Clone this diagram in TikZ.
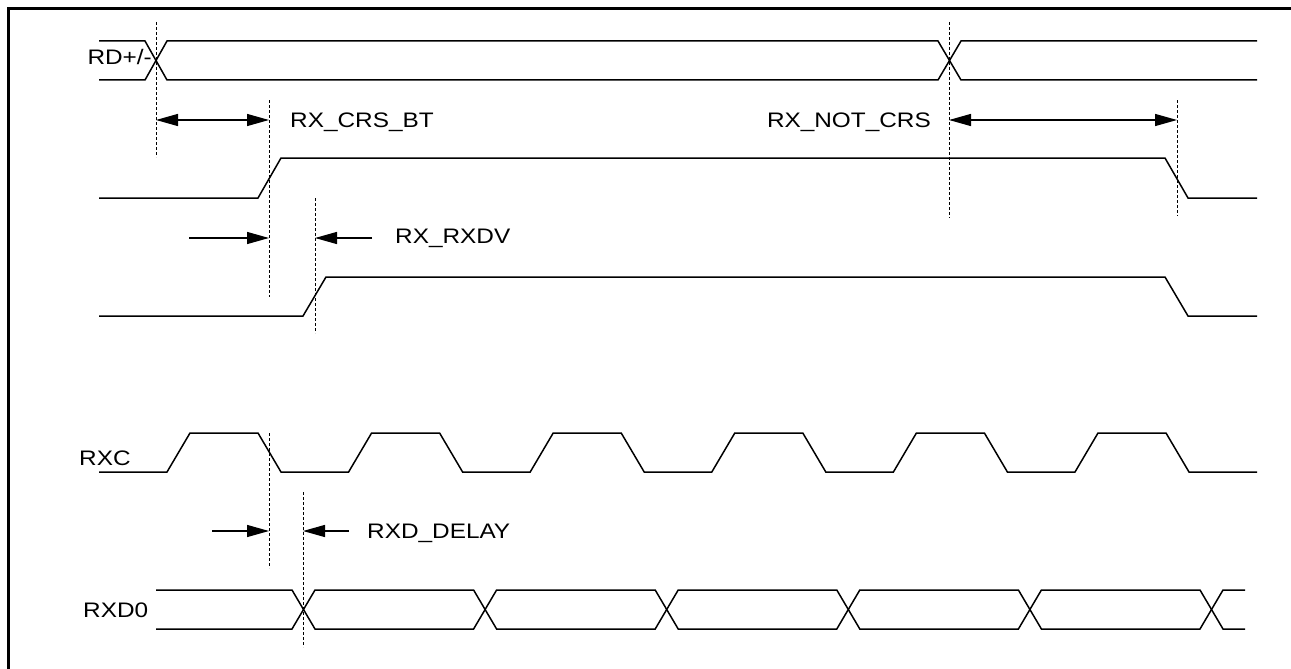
\documentclass[tikz,border=0pt]{standalone}
\usepackage{fontspec}
\setmainfont{Liberation Sans}[FakeStretch=1.16]
\usetikzlibrary{arrows.meta}
\begin{document}
\begin{tikzpicture}[x=1pt,y=-1pt,
  sig/.style={line width=1.5pt,line join=miter},
  guide/.style={line width=1pt,dash pattern=on 3pt off 2pt},
  dim/.style={line width=1.3pt},
  onetip/.style={dim,-{Triangle[length=22pt,width=12pt]}},
  twotip/.style={dim,{Triangle[length=22pt,width=12pt]}-{Triangle[length=22pt,width=12pt]}},
  lbl/.style={font=\fontsize{21}{24}\selectfont, inner sep=0pt}]
\useasboundingbox (0,0) rectangle (1291,669);
% frame (top and left only)
\draw[line width=3pt] (1291,9) -- (8,9) -- (8,669);

% ---------- labels ----------
\node[lbl,anchor=base east] (lrd) at (152,65) {RD+/-};
\node[lbl,anchor=base west] (lrxc) at (79,465) {RXC};
\node[lbl,anchor=base west] (lrxd) at (83,617) {RXD0};
\node[lbl,anchor=base west] (lcrsbt) at (290,127) {RX\_CRS\_BT};
\node[lbl,anchor=base east] (lnotcrs) at (931,127) {RX\_NOT\_CRS};
\node[lbl,anchor=base west] (lrxdv) at (395,243) {RX\_RXDV};
\node[lbl,anchor=base west] (ldelay) at (367,538) {RXD\_DELAY};

% ---------- RD+/- ----------
\draw[sig] (99,41) -- (145,41) -- (167,80) -- (938,80) -- (961,41) -- (1257,41);
\draw[sig] (99,80) -- (145,80) -- (167,41) -- (938,41) -- (961,80) -- (1257,80);

% ---------- CRS ----------
\draw[sig] (99,198) -- (258,198) -- (281,158) -- (1165,158) -- (1188,198) -- (1257,198);

% ---------- RX_DV ----------
\draw[sig] (99,316) -- (303,316) -- (326,277) -- (1165,277) -- (1188,316) -- (1257,316);

% ---------- RXC ----------
\draw[sig] (99,472)
  -- (167,472) -- (190,433) -- (258,433) -- (281,472)
  -- (348.6,472) -- (371.6,433) -- (439.6,433) -- (462.6,472)
  -- (530.2,472) -- (553.2,433) -- (621.2,433) -- (644.2,472)
  -- (711.8,472) -- (734.8,433) -- (802.8,433) -- (825.8,472)
  -- (893.4,472) -- (916.4,433) -- (984.4,433) -- (1007.4,472)
  -- (1075,472) -- (1098,433) -- (1166,433) -- (1189,472)
  -- (1257,472);

% ---------- RXD0 ----------
\draw[sig] (156,590) -- (292,590) -- (315,629) -- (473.6,629) -- (496.6,590)
  -- (655.2,590) -- (678.2,629) -- (836.8,629) -- (859.8,590)
  -- (1018.4,590) -- (1041.4,629) -- (1200,629) -- (1223,590) -- (1245,590);
\draw[sig] (156,629) -- (292,629) -- (315,590) -- (473.6,590) -- (496.6,629)
  -- (655.2,629) -- (678.2,590) -- (836.8,590) -- (859.8,629)
  -- (1018.4,629) -- (1041.4,590) -- (1200,590) -- (1223,629) -- (1245,629);

% ---------- guide lines ----------
\coordinate (g1t) at (156,22);   \coordinate (g1b) at (156,157);
\coordinate (g2t) at (269,100);  \coordinate (g2b) at (269,297);
\coordinate (g3t) at (949,22);   \coordinate (g3b) at (949,218);
\coordinate (g4t) at (1177,100); \coordinate (g4b) at (1177,216);
\coordinate (g5t) at (315,198);  \coordinate (g5b) at (315,333);
\coordinate (g6t) at (269,433);  \coordinate (g6b) at (269,568);
\coordinate (g7t) at (303,492);  \coordinate (g7b) at (303,647);
\foreach \g in {1,...,7} \draw[guide] (g\g t) -- (g\g b);

% ---------- dimension arrows ----------
\coordinate (a1l) at (156,120);  \coordinate (a1r) at (269,120);
\draw[twotip] (a1l) -- (a1r);
\coordinate (a2l) at (949,120);  \coordinate (a2r) at (1177,120);
\draw[twotip] (a2l) -- (a2r);
\coordinate (a3s) at (189,238);  \coordinate (a3e) at (269,238);
\draw[onetip] (a3s) -- (a3e);
\coordinate (a4s) at (372,238);  \coordinate (a4e) at (315,238);
\draw[onetip] (a4s) -- (a4e);
\coordinate (a5s) at (212,531);  \coordinate (a5e) at (269,531);
\draw[onetip] (a5s) -- (a5e);
\coordinate (a6s) at (349,531);  \coordinate (a6e) at (303,531);
\draw[onetip] (a6s) -- (a6e);
\end{tikzpicture}
\end{document}
